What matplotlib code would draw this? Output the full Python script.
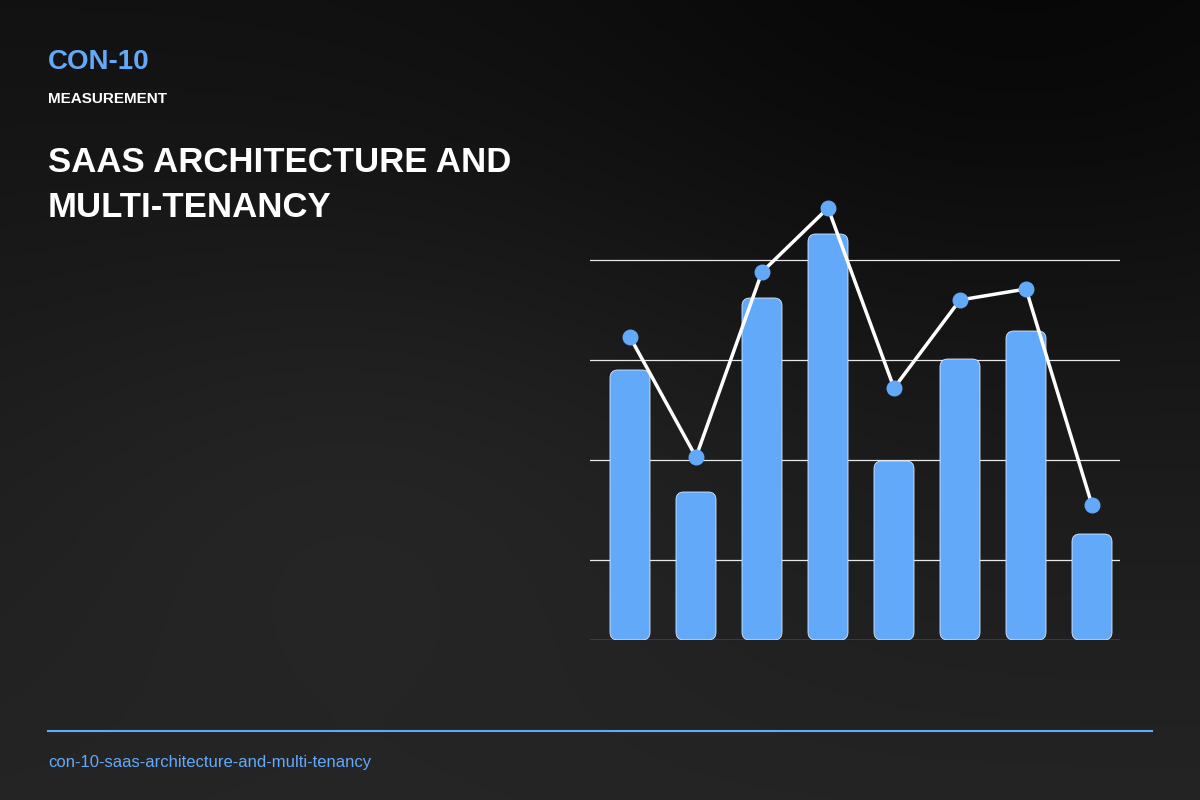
import numpy as np
import matplotlib.pyplot as plt
from matplotlib.patches import FancyBboxPatch

plt.rcParams['font.family'] = ['Liberation Sans', 'DejaVu Sans']

bar_vals = [2.70, 1.48, 3.42, 4.06, 1.79, 2.81, 3.09, 1.06]
line_vals = [3.03, 1.83, 3.68, 4.32, 2.52, 3.40, 3.51, 1.35]
grid_levels = [0.8, 1.8, 2.8, 3.8]
blue = '#63a9fa'

fig = plt.figure(figsize=(12, 8), dpi=100)

# background gradient
bg = fig.add_axes([0, 0, 1, 1])
yy, xx = np.mgrid[0:1:200j, 0:1:300j]
shade = 0.07 + 0.07 * yy + 0.03 * np.exp(-((xx - 0.3) ** 2 + (yy - 0.6) ** 2) / 0.1) \
    - 0.04 * np.exp(-((xx - 0.85) ** 2 + (yy - 0.05) ** 2) / 0.15)
shade = np.clip(shade, 0, 1)
bg.imshow(np.dstack([shade] * 3), extent=[0, 1, 1, 0], aspect='auto')
bg.set_xlim(0, 1)
bg.set_ylim(1, 0)
bg.axis('off')

fig.text(48 / 1200, 1 - 62 / 800, 'CON-10', color=blue, fontsize=20, fontweight='bold', va='center')
fig.text(48 / 1200, 1 - 99 / 800, 'MEASUREMENT', color='white', fontsize=11, fontweight='bold', va='center')
fig.text(48 / 1200, 1 - 185 / 800, 'SAAS ARCHITECTURE AND\nMULTI-TENANCY', color='white',
         fontsize=25, fontweight='bold', va='center', linespacing=1.45)
fig.text(48 / 1200, 1 - 763 / 800, 'con-10-saas-architecture-and-multi-tenancy', color=blue,
         fontsize=12, va='center')
bg.plot([48 / 1200, 1152 / 1200], [731 / 800, 731 / 800], color=blue, lw=1.5)

ax = fig.add_axes([590 / 1200, 160 / 800, 530 / 1200, 440 / 800])
ax.patch.set_alpha(0)
ax.set_xlim(-40 / 66, 490 / 66)
ax.set_ylim(0, 4.4)
for g in grid_levels:
    ax.axhline(g, color='white', lw=0.9, alpha=0.9, zorder=1)
ax.axhline(0, color='white', lw=0.9, alpha=0.9, zorder=3)

x = np.arange(len(bar_vals))
w = 40 / 66
for xi, v in zip(x, bar_vals):
    ax.add_patch(FancyBboxPatch((xi - w / 2, 0), w, v,
                                boxstyle='round,pad=0,rounding_size=0.12',
                                mutation_aspect=0.66, facecolor=blue,
                                edgecolor='#dbe9ff', lw=0.6, zorder=2))
ax.plot(x, line_vals, color='white', lw=2.5, zorder=3)
ax.scatter(x, line_vals, s=110, color=blue, zorder=4)
ax.axis('off')

fig.savefig('out.png', dpi=100)
